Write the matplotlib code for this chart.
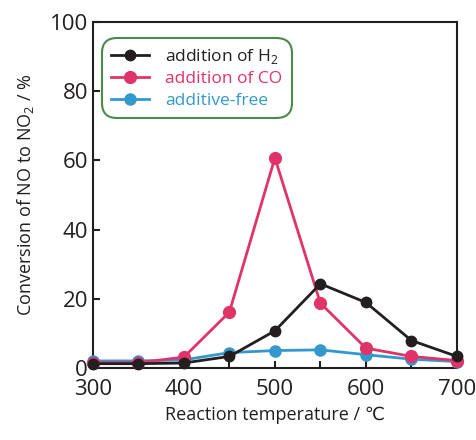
import matplotlib
matplotlib.use('Agg')
import matplotlib.pyplot as plt
from matplotlib.ticker import MultipleLocator

plt.rcParams['font.family'] = ['Open Sans', 'DejaVu Sans']
plt.rcParams['mathtext.fontset'] = 'custom'
plt.rcParams['mathtext.rm'] = 'Open Sans'

temps = [300, 350, 400, 450, 500, 550, 600, 650, 700]
h2 = [1.2, 1.2, 1.4, 3.3, 10.7, 24.3, 18.9, 7.9, 3.3]
co = [1.5, 1.5, 3.1, 16.1, 60.7, 18.7, 5.7, 3.3, 2.1]
free = [2.0, 2.0, 2.3, 4.4, 5.0, 5.2, 3.8, 2.5, 1.8]

c_h2 = '#231f20'
c_co = '#e03468'
c_free = '#3399cc'

fig = plt.figure(figsize=(4.76, 4.40), dpi=100)
ax = fig.add_axes([0.195, 0.164, 0.765, 0.786])

ax.plot(temps, free, '-o', color=c_free, lw=2, ms=8, clip_on=False, zorder=3,
        label='additive-free')
ax.plot(temps, co, '-o', color=c_co, lw=2, ms=8.5, clip_on=False, zorder=4,
        label='addition of CO')
ax.plot(temps, h2, '-o', color=c_h2, lw=2, ms=7.5, clip_on=False, zorder=5,
        label='addition of H$_2$')

ax.set_xlim(300, 700)
ax.set_ylim(0, 100)
ax.xaxis.set_major_locator(MultipleLocator(100))
ax.xaxis.set_minor_locator(MultipleLocator(50))
ax.yaxis.set_major_locator(MultipleLocator(20))
ax.tick_params(which='both', direction='in', length=5, width=1.5, labelsize=16,
               colors='#231f20')
ax.tick_params(axis='x', pad=8)
for s in ax.spines.values():
    s.set_linewidth(1.5)
    s.set_color('#231f20')

ax.set_xlabel('Reaction temperature / ℃', fontsize=13, color='#231f20', labelpad=4)
ax.set_ylabel('Conversion of NO to NO$_2$ / %', fontsize=13, color='#231f20', labelpad=10)

handles, labels = ax.get_legend_handles_labels()
order = [2, 1, 0]
leg = ax.legend([handles[i] for i in order], [labels[i] for i in order],
                loc='upper left', bbox_to_anchor=(0.01, 0.97), fontsize=12.5,
                frameon=True, fancybox=True, handlelength=2.2, borderpad=0.55,
                labelspacing=0.3, handletextpad=0.9, borderaxespad=0.3)
fr = leg.get_frame()
fr.set_edgecolor('#4a8a4a')
fr.set_linewidth(1.5)
fr.set_alpha(1)
fr.set_boxstyle('round,pad=0,rounding_size=0.9')
for t, c in zip(leg.get_texts(), [c_h2, c_co, c_free]):
    t.set_color(c)

fig.savefig('out.png', dpi=100)
